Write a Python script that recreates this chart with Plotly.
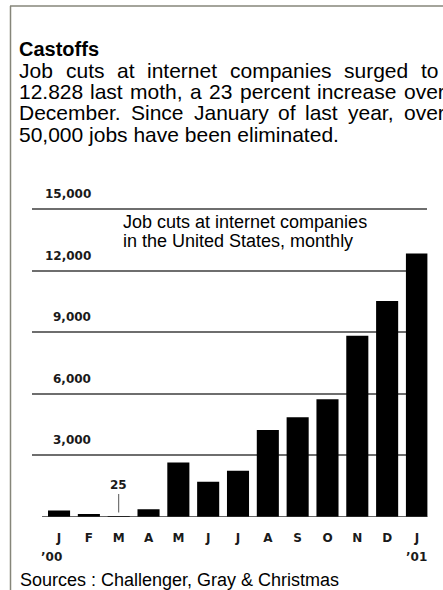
import plotly.graph_objects as go

W, H = 443, 590

# ---- data ----
months = ["J", "F", "M", "A", "M", "J", "J", "A", "S", "O", "N", "D", "J"]
years = ["’00", "’01"]
job_cuts = [320, 150, 25, 380, 2650, 1720, 2250, 4240, 4855, 5730, 8830, 10520, 12828]
y_ticks = [3000, 6000, 9000, 12000, 15000]
y_tick_labels = ["3,000", "6,000", "9,000", "12,000", "15,000"]
march_label = "25"

title = "Castoffs"
body_lines = [
    "Job cuts at internet companies surged to",
    "12.828 last moth, a 23 percent increase over",
    "December. Since January of last year, over",
    "50,000 jobs have been eliminated.",
]
chart_note = ["Job cuts at internet companies", "in the United States, monthly"]
source = "Sources : Challenger, Gray & Christmas"


def px(x):
    return x / W


def py(y):
    return 1 - y / H


TEXT_FONT = "Liberation Sans, Arial, sans-serif"
TICK_FONT = "DejaVu Sans, sans-serif"
BODY_SIZE = 21

# Arial / Liberation Sans advance widths (per 1000 em) used to lay out justified text
AW = {" ": 278, ",": 278, ".": 278, ":": 278, "&": 667}
AW.update({c: 556 for c in "0123456789"})
AW.update(dict(a=556, b=556, c=500, d=556, e=556, f=278, g=556, h=556, i=222, j=222, k=500,
               l=222, m=833, n=556, o=556, p=556, q=556, r=333, s=500, t=278, u=556, v=500,
               w=722, x=500, y=500, z=500, J=500, D=722, S=667, C=722, G=778))


def text_w(s, size):
    return sum(AW.get(ch, 556) for ch in s) * size / 1000.0


xs = list(range(len(months)))

fig = go.Figure()
fig.add_trace(go.Bar(x=xs, y=job_cuts, marker=dict(color="black", line=dict(width=0)),
                     hoverinfo="skip"))

annotations = []
# title
annotations.append(dict(text="<b>" + title + "</b>", xref="paper", yref="paper",
                        x=px(17), y=py(49), xanchor="left", yanchor="middle", showarrow=False,
                        font=dict(family=TEXT_FONT, size=20, color="black")))
# body text, justified lines placed word by word
body_centers = [70, 91.5, 113, 134.7]
last_word_start = [419, 401.7, 402, None]  # where the final word of each justified line begins
left = 17
for line, cy, last_x in zip(body_lines, body_centers, last_word_start):
    words = line.split(" ")
    if last_x is None:
        annotations.append(dict(text=line, xref="paper", yref="paper", x=px(left), y=py(cy),
                                xanchor="left", yanchor="middle", showarrow=False,
                                font=dict(family=TEXT_FONT, size=BODY_SIZE, color="black")))
        continue
    widths = [text_w(w, BODY_SIZE) for w in words]
    gap = (last_x - left - sum(widths[:-1])) / (len(words) - 1)
    xpos = left
    for w, ww in zip(words, widths):
        annotations.append(dict(text=w, xref="paper", yref="paper", x=px(xpos), y=py(cy),
                                xanchor="left", yanchor="middle", showarrow=False,
                                font=dict(family=TEXT_FONT, size=BODY_SIZE, color="black")))
        xpos += ww + gap
# chart note
for line, cy in zip(chart_note, [221.5, 241.5]):
    annotations.append(dict(text=line, xref="paper", yref="paper", x=px(120.5), y=py(cy),
                            xanchor="left", yanchor="middle", showarrow=False,
                            font=dict(family=TEXT_FONT, size=18, color="black")))
# y tick labels above gridlines
for v, lab in zip(y_ticks, y_tick_labels):
    annotations.append(dict(text="<b>" + lab + "</b>", xref="paper", yref="y", x=px(93), y=v,
                            xanchor="right", yanchor="middle", yshift=15, showarrow=False,
                            font=dict(family=TICK_FONT, size=12, color="#1a1a1a")))
# year labels
annotations.append(dict(text="<b>" + years[0] + "</b>", xref="x", yref="paper", x=xs[0], y=py(557),
                        xanchor="center", yanchor="middle", xshift=-8, showarrow=False,
                        font=dict(family=TICK_FONT, size=12, color="#1a1a1a")))
annotations.append(dict(text="<b>" + years[1] + "</b>", xref="x", yref="paper", x=xs[-1], y=py(557),
                        xanchor="center", yanchor="middle", xshift=0, showarrow=False,
                        font=dict(family=TICK_FONT, size=12, color="#1a1a1a")))
# March value callout
annotations.append(dict(text="<b>" + march_label + "</b>", xref="x", yref="y", x=xs[2], y=job_cuts[2],
                        showarrow=True, arrowhead=0, arrowwidth=1, arrowcolor="#555",
                        ax=0, ay=-31, standoff=4,
                        font=dict(family=TICK_FONT, size=12, color="#1a1a1a")))
# source
annotations.append(dict(text=source, xref="paper", yref="paper", x=px(18), y=py(580),
                        xanchor="left", yanchor="middle", showarrow=False,
                        font=dict(family=TEXT_FONT, size=18, color="black")))

shapes = [
    # frame
    dict(type="line", xref="paper", yref="paper", x0=px(10.5), x1=px(10.5), y0=py(6), y1=py(600),
         line=dict(color="#86867a", width=1.5)),
    dict(type="line", xref="paper", yref="paper", x0=px(10), x1=px(450), y0=py(6), y1=py(6),
         line=dict(color="#86867a", width=1.5)),
    # baseline
    dict(type="line", xref="x", yref="y", x0=-0.57, x1=12.35, y0=0, y1=0,
         line=dict(color="#333", width=1.5), layer="above"),
]

fig.update_layout(
    width=W, height=H,
    margin=dict(l=0, r=0, t=0, b=0),
    paper_bgcolor="white", plot_bgcolor="white",
    showlegend=False,
    bargap=0.26,
    annotations=annotations,
    shapes=shapes,
    xaxis=dict(domain=[px(32.2), px(427.4)], range=[-0.9, 12.35],
               tickmode="array", tickvals=xs, ticktext=["<b>" + m + "</b>" for m in months],
               showgrid=False, zeroline=False, showline=False, ticks="",
               ticklabelstandoff=12,
               tickfont=dict(family=TICK_FONT, size=12, color="#1a1a1a")),
    yaxis=dict(domain=[py(517), py(204.9)], range=[0, 15200],
               tickmode="array", tickvals=y_ticks, showticklabels=False,
               showgrid=True, gridcolor="#6e6e6e", gridwidth=2,
               zeroline=False, showline=False, ticks=""),
)

fig.write_html("out.html")
